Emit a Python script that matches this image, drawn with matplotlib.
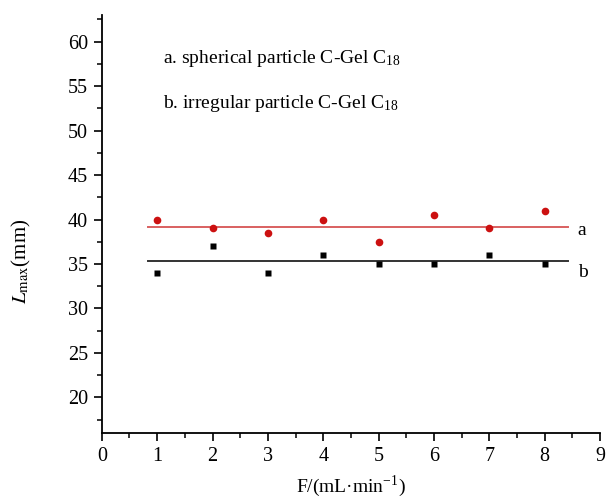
import matplotlib
matplotlib.use("Agg")
import matplotlib.pyplot as plt
from matplotlib.ticker import MultipleLocator

plt.rcParams['font.family'] = ['Liberation Serif', 'DejaVu Serif']
plt.rcParams['mathtext.fontset'] = 'stix'

flow = [1, 2, 3, 4, 5, 6, 7, 8]
spherical = [40, 39, 38.5, 40, 37.5, 40.5, 39, 41]
irregular = [34, 37, 34, 36, 35, 35, 36, 35]
fit_a = 39.2
fit_b = 35.3
line_x = [0.83, 8.43]

fig = plt.figure(figsize=(6.06, 5.0), dpi=100)
ax = fig.add_axes([0.168, 0.134, 0.822, 0.836])

ax.plot(line_x, [fit_a, fit_a], color='#d96060', lw=1.4)
ax.plot(line_x, [fit_b, fit_b], color='#333333', lw=1.4)
ax.plot(flow, spherical, 'o', color='#cc1111', ms=5.5, mec='none')
ax.plot(flow, irregular, 's', color='black', ms=4.6, mec='none')

ax.text(8.6, 38.8, 'a', fontsize=14, va='center', ha='left')
ax.text(8.6, 34.1, 'b', fontsize=14, va='center', ha='left')

ax.text(1.1, 58.1, 'a. spherical particle C-Gel C$_{\\mathregular{18}}$', fontsize=14, va='center')
ax.text(1.1, 53.0, 'b. irregular particle C-Gel C$_{\\mathregular{18}}$', fontsize=14, va='center')

ax.set_xlim(0, 9)
ax.set_ylim(16, 63)
ax.xaxis.set_major_locator(MultipleLocator(1))
ax.xaxis.set_minor_locator(MultipleLocator(0.5))
ax.yaxis.set_major_locator(MultipleLocator(5))
ax.yaxis.set_minor_locator(MultipleLocator(2.5))
ax.set_yticks(range(20, 61, 5))

for s in ['top', 'right']:
    ax.spines[s].set_visible(False)
for s in ['left', 'bottom']:
    ax.spines[s].set_linewidth(1.3)
ax.tick_params(which='major', direction='out', length=6, width=1.2, labelsize=14.5, pad=4)
ax.tick_params(which='minor', direction='out', length=3.5, width=1.1)

ax.set_xlabel('F/(mL·min$^{\\mathregular{-1}}$)', fontsize=14, labelpad=6)
ax.set_ylabel('$L_{\\mathrm{max}}$(mm)', fontsize=15)
ax.yaxis.set_label_coords(-0.138, 0.41)

fig.savefig('out.png', dpi=100)
